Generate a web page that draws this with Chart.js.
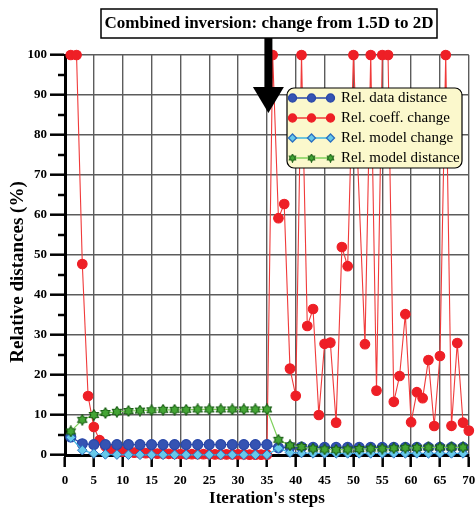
<!DOCTYPE html>
<html>
<head>
<meta charset="utf-8">
<script src="https://cdn.jsdelivr.net/npm/chart.js@4"></script>
<style>
  html, body { margin: 0; padding: 0; background: #fff; }
  #wrap { width: 475px; height: 509px; }
</style>
</head>
<body>
<div id="wrap"><canvas id="myChart" width="475" height="509"></canvas></div>
<script>
// iteration steps
var redSteps = [1,2,3,4,5,6,7,8,9,10,11,12,13,14,15,16,17,18,19,20,21,22,23,24,25,26,27,28,29,30,31,32,33,34,35,
                36,37,38,39,40,41,42,43,44,45,46,47,48,49,50,52,53,54,55,56,57,58,59,60,61,62,63,64,65,66,67,68,69,70];
var oddSteps = [1,3,5,7,9,11,13,15,17,19,21,23,25,27,29,31,33,35,37,39,41,43,45,47,49,51,53,55,57,59,61,63,65,67,69];

// Rel. coeff. change (%)
var coeffChange = [100,100,47.75,14.75,7.0,3.7,2.2,1.5,1.1,0.85,0.7,0.6,0.5,0.45,0.4,0.35,0.3,0.3,0.25,0.25,0.2,0.2,0.2,0.2,0.2,0.15,0.15,0.15,0.15,0.15,0.15,0.1,0.1,0.1,0.1,
                   100,59.2,62.75,21.6,14.8,100,32.25,36.5,10,27.8,28.1,8.1,52,47.2,100,27.7,100,16.1,100,100,13.3,19.75,35.2,8.2,15.7,14.2,23.75,7.25,24.75,100,7.3,28,8.1,6.1];
// Rel. data distance (%)
var dataDistance = [4.5,2.8,2.6,2.6,2.6,2.6,2.6,2.6,2.6,2.6,2.6,2.6,2.6,2.6,2.6,2.6,2.6,2.6,
                    1.8,2.0,2.0,1.9,1.9,1.9,1.9,1.9,1.9,1.9,1.9,1.9,1.9,1.9,1.9,1.9,1.9];
// Rel. model change (%)
var modelChange = [4.4,1.2,0.35,0.15,0.1,0.05,0.05,0.05,0.05,0.05,0.05,0.05,0.05,0.05,0.05,0.05,0.05,0.05,
                   1.7,0.6,0.5,0.4,0.4,0.4,0.4,0.4,0.4,0.4,0.4,0.4,0.4,0.4,0.4,0.4,0.4];
// Rel. model distance (%)
var modelDistance = [5.9,8.8,10.0,10.5,10.8,11.0,11.1,11.2,11.3,11.3,11.3,11.4,11.4,11.4,11.4,11.4,11.4,11.4,
                     3.8,2.4,2.0,1.6,1.4,1.3,1.4,1.5,1.6,1.6,1.7,1.8,1.8,1.9,1.9,1.9,1.9];

var xTicks = [0,5,10,15,20,25,30,35,40,45,50,55,60,65,70];
var yTicks = [0,10,20,30,40,50,60,70,80,90,100];

var serif = '"Liberation Serif", "Times New Roman", serif';

function pts(xs, ys) {
  return xs.map(function (x, i) { return { x: x, y: ys[i] }; });
}

// little green six-point star marker
function starImage(size) {
  var c = document.createElement('canvas');
  c.width = size; c.height = size;
  var g = c.getContext('2d');
  var cx = size / 2, cy = size / 2, R = size / 2 - 0.8;
  g.beginPath();
  for (var i = 0; i < 12; i++) {
    var r = (i % 2 === 0) ? R : R * 0.62;
    var a = -Math.PI / 2 + i * Math.PI / 6;
    var px = cx + r * Math.cos(a), py = cy + r * Math.sin(a);
    if (i === 0) g.moveTo(px, py); else g.lineTo(px, py);
  }
  g.closePath();
  g.fillStyle = '#44a535';
  g.fill();
  g.lineWidth = 1.1;
  g.strokeStyle = '#155a10';
  g.stroke();
  return c;
}
var star = starImage(12);
var starSmall = starImage(9);

var datasets = [{
    label: 'Rel. model distance',
    data: pts(oddSteps, modelDistance),
    borderColor: '#7fd05c',
    borderWidth: 1.2,
    pointStyle: star,
    order: 0
  }, {
    label: 'Rel. model change',
    data: pts(oddSteps, modelChange),
    borderColor: '#3fb4e0',
    backgroundColor: '#67c9ea',
    pointBorderColor: '#2a6fc0',
    pointBorderWidth: 1,
    pointStyle: 'rectRot',
    pointRadius: 4.8,
    borderWidth: 1.2,
    order: 1
  }, {
    label: 'Rel. data distance',
    data: pts(oddSteps, dataDistance),
    borderColor: '#2a48a8',
    backgroundColor: '#3553b3',
    pointBorderColor: '#2a48a8',
    pointStyle: 'circle',
    pointRadius: 5,
    borderWidth: 1.2,
    order: 2
  }, {
    label: 'Rel. coeff. change',
    data: pts(redSteps, coeffChange),
    borderColor: '#f03a3a',
    backgroundColor: '#ee1f26',
    pointBorderColor: '#ee1f26',
    pointStyle: 'circle',
    pointRadius: 4.8,
    borderWidth: 1.1,
    order: 3
  }];

var legendItems = [
  { text: 'Rel. data distance', line: '#2a48a8', fill: '#3553b3', stroke: '#2a48a8', style: 'circle', r: 4 },
  { text: 'Rel. coeff. change', line: '#f03a3a', fill: '#ee1f26', stroke: '#ee1f26', style: 'circle', r: 4 },
  { text: 'Rel. model change', line: '#3fb4e0', fill: '#67c9ea', stroke: '#2a6fc0', style: 'rectRot', r: 4 },
  { text: 'Rel. model distance', line: '#7fd05c', fill: '#44a535', stroke: '#175f12', style: starSmall, r: 4 }
];

var overlay = {
  id: 'overlay',
  afterDraw: function (chart) {
    var ctx = chart.ctx;
    var xs = chart.scales.x, ys = chart.scales.y;
    var area = chart.chartArea;
    ctx.save();

    // minor ticks on y
    ctx.strokeStyle = '#000';
    ctx.lineWidth = 2.5;
    for (var v = 5; v < 100; v += 10) {
      var py = Math.round(ys.getPixelForValue(v));
      ctx.beginPath();
      ctx.moveTo(area.left - 7, py);
      ctx.lineTo(area.left, py);
      ctx.stroke();
    }

    // y title
    ctx.save();
    ctx.translate(18, 272);
    ctx.rotate(-Math.PI / 2);
    ctx.font = 'bold 19px ' + serif;
    ctx.fillStyle = '#000';
    ctx.textAlign = 'center';
    ctx.textBaseline = 'middle';
    ctx.fillText('Relative distances (%)', 0, 0);
    ctx.restore();

    // annotation box + arrow
    var ax = xs.getPixelForValue(35) + 1.5;
    ctx.fillStyle = '#fff';
    ctx.strokeStyle = '#000';
    ctx.lineWidth = 1.5;
    ctx.fillRect(101, 9, 336, 29);
    ctx.strokeRect(101, 9, 336, 29);
    ctx.fillStyle = '#000';
    ctx.font = 'bold 17px ' + serif;
    ctx.textAlign = 'center';
    ctx.textBaseline = 'middle';
    ctx.fillText('Combined inversion: change from 1.5D to 2D', 269, 24);

    ctx.fillRect(ax - 4, 38, 8, 52);
    ctx.beginPath();
    ctx.moveTo(ax - 15.5, 87);
    ctx.lineTo(ax + 15.5, 87);
    ctx.lineTo(ax, 113);
    ctx.closePath();
    ctx.fill();

    // legend
    var lx = 287, ly = 88, lw = 175, lh = 80, rr = 7;
    ctx.beginPath();
    ctx.moveTo(lx + rr, ly);
    ctx.arcTo(lx + lw, ly, lx + lw, ly + lh, rr);
    ctx.arcTo(lx + lw, ly + lh, lx, ly + lh, rr);
    ctx.arcTo(lx, ly + lh, lx, ly, rr);
    ctx.arcTo(lx, ly, lx + lw, ly, rr);
    ctx.closePath();
    ctx.fillStyle = '#fbf8cc';
    ctx.fill();
    ctx.lineWidth = 1.2;
    ctx.strokeStyle = '#000';
    ctx.stroke();

    legendItems.forEach(function (it, i) {
      var cy = 98 + i * 20;
      ctx.strokeStyle = it.line;
      ctx.lineWidth = 1.3;
      ctx.beginPath();
      ctx.moveTo(292.5, cy);
      ctx.lineTo(330.5, cy);
      ctx.stroke();
      [292.5, 311.5, 330.5].forEach(function (mx) {
        ctx.fillStyle = it.fill;
        ctx.strokeStyle = it.stroke;
        Chart.helpers.drawPoint(ctx, { pointStyle: it.style, radius: it.r, borderWidth: 1, rotation: 0 }, mx, cy);
      });
      ctx.fillStyle = '#000';
      ctx.font = '15px ' + serif;
      ctx.textAlign = 'left';
      ctx.textBaseline = 'middle';
      ctx.fillText(it.text, 341, cy + 0.5);
    });

    ctx.restore();
  }
};

var ctx = document.getElementById('myChart').getContext('2d');
var myChart = new Chart(ctx, {
  type: 'line',
  data: { datasets: datasets },
  plugins: [overlay],
  options: {
    responsive: false,
    animation: false,
    events: [],
    layout: { padding: { top: 55, right: 5, left: 0, bottom: 0 } },
    elements: {
      line: { tension: 0 },
      point: { radius: 4.5, borderWidth: 1 }
    },
    datasets: { line: { clip: false, fill: false } },
    scales: {
      x: {
        type: 'linear',
        min: 0,
        max: 70,
        afterBuildTicks: function (s) { s.ticks = xTicks.map(function (v) { return { value: v }; }); },
        afterFit: function (s) { s.height = 54; s.paddingLeft = 0; s.paddingRight = 0; },
        ticks: {
          padding: 6,
          maxRotation: 0,
          color: '#000',
          font: { family: serif, size: 13, weight: 'bold' }
        },
        grid: { color: '#5c5c5c', lineWidth: 1.4, tickLength: 12, tickColor: '#000', tickWidth: 2.5 },
        border: { color: '#000', width: 3 },
        title: {
          display: true,
          text: "Iteration's steps",
          color: '#000',
          padding: { top: 0, bottom: 0 },
          font: { family: serif, size: 17, weight: 'bold' }
        }
      },
      y: {
        min: 0,
        max: 100,
        afterBuildTicks: function (s) { s.ticks = yTicks.map(function (v) { return { value: v }; }); },
        afterFit: function (s) { s.width = 65; s.paddingTop = 0; s.paddingBottom = 0; },
        ticks: {
          padding: 3,
          color: '#000',
          font: { family: serif, size: 13, weight: 'bold' }
        },
        grid: { color: '#5c5c5c', lineWidth: 1.4, tickLength: 15, tickColor: '#000', tickWidth: 2.5 },
        border: { color: '#000', width: 3 }
      }
    },
    plugins: {
      legend: { display: false },
      tooltip: { enabled: false },
      title: { display: false }
    }
  }
});
</script>
</body>
</html>
